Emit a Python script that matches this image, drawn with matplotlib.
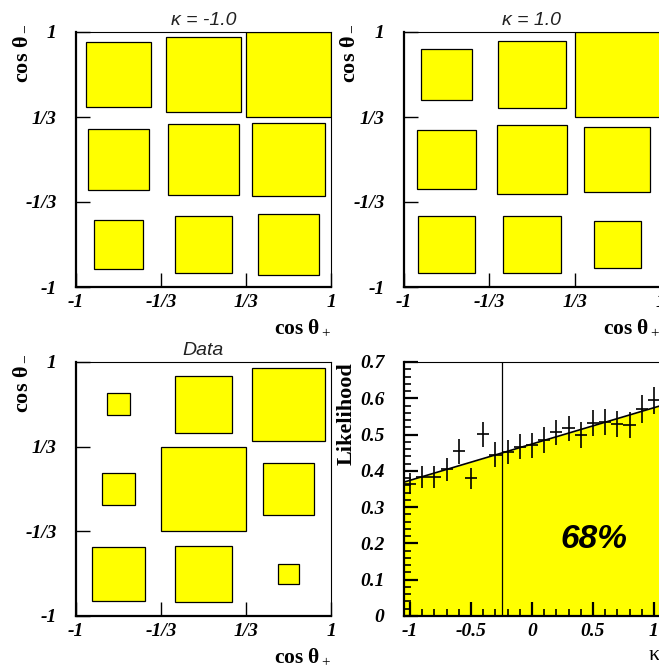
import numpy as np
import matplotlib
matplotlib.use("Agg")
import matplotlib.pyplot as plt
from matplotlib.patches import Rectangle
from matplotlib.ticker import MultipleLocator

plt.rcParams['mathtext.fontset'] = 'custom'
plt.rcParams['mathtext.rm'] = 'Liberation Serif'
plt.rcParams['mathtext.bf'] = 'Liberation Serif:bold'
plt.rcParams['mathtext.it'] = 'Liberation Serif:italic'

# box sizes (relative to largest bin), rows listed from top (cos theta- high) to bottom
kappa_m1 = [[0.765, 0.875, 1.0],
            [0.706, 0.830, 0.867],
            [0.565, 0.667, 0.710]]
kappa_p1 = [[0.596, 0.796, 1.0],
            [0.698, 0.810, 0.776],
            [0.675, 0.671, 0.553]]
data_box = [[0.26, 0.68, 0.86],
            [0.378, 1.0, 0.607],
            [0.635, 0.66, 0.24]]
bin_centers = [-2/3, 0, 2/3]
tick_pos = [-1, -1/3, 1/3, 1]
tick_lab = ['-1', '-1/3', '1/3', '1']

# likelihood scan
kappa = [-1.0, -0.9, -0.8, -0.7, -0.6, -0.5, -0.4, -0.3, -0.2, -0.1, 0.0,
         0.1, 0.2, 0.3, 0.4, 0.5, 0.6, 0.7, 0.8, 0.9, 1.0]
lik = [0.365, 0.383, 0.383, 0.404, 0.454, 0.379, 0.501, 0.445, 0.452, 0.467, 0.470,
       0.485, 0.506, 0.517, 0.499, 0.531, 0.534, 0.529, 0.527, 0.571, 0.594]
lik_err = [0.028, 0.030, 0.030, 0.032, 0.034, 0.028, 0.034, 0.034, 0.034, 0.034, 0.034,
           0.035, 0.035, 0.035, 0.035, 0.036, 0.036, 0.036, 0.036, 0.038, 0.038]
fit_x = [-1.05, 1.05]
fit_y = [0.369, 0.579]
kappa_cut = -0.25

W, H = 659, 669
fig = plt.figure(figsize=(W / 100, H / 100), dpi=100)


def px_axes(left, top, w, h):
    return fig.add_axes([left / W, 1 - (top + h) / H, w / W, h / H])


tickfont = dict(family='Liberation Serif', weight='bold', style='italic', size=14)
labfont = dict(family='Liberation Serif', weight='bold', size=16)


def frame(ax):
    for s in ['left', 'bottom']:
        ax.spines[s].set_linewidth(1.6)
    for s in ['top', 'right']:
        ax.spines[s].set_linewidth(0.8)


def box_panel(ax, grid, title):
    ax.set_xlim(-1, 1)
    ax.set_ylim(-1, 1)
    for r, row in enumerate(grid):
        yc = bin_centers[2 - r]
        for c, v in enumerate(row):
            xc = bin_centers[c]
            s = v * 2 / 3
            ax.add_patch(Rectangle((xc - s / 2, yc - s / 2), s, s,
                                   facecolor='#ffff00', edgecolor='black', lw=0.9))
    ax.set_xticks(tick_pos)
    ax.set_yticks(tick_pos)
    ax.set_xticklabels(tick_lab, fontdict=tickfont)
    ax.set_yticklabels(tick_lab, fontdict=tickfont)
    ax.tick_params(direction='in', length=10, width=1)
    ax.tick_params(axis='x', pad=5)
    ax.tick_params(axis='y', pad=14)
    frame(ax)
    ax.set_title(title, family='Liberation Sans', style='italic', size=14, color='#222222', pad=5)
    ax.text(1.0, -0.12, r'$\mathbf{cos}\ \mathbf{θ}_{\rm +}$', transform=ax.transAxes,
            ha='right', va='top', size=15.5)
    ax.text(-0.225, 1.03, r'$\mathbf{cos}\ \mathbf{θ}_{\rm -}$', transform=ax.transAxes,
            ha='center', va='top', rotation=90, size=16)


ax1 = px_axes(76, 32, 255, 255)
box_panel(ax1, kappa_m1, 'κ = -1.0')
ax2 = px_axes(404, 32, 256, 255)
box_panel(ax2, kappa_p1, 'κ = 1.0')
ax3 = px_axes(76, 362, 255, 254)
box_panel(ax3, data_box, 'Data')

ax4 = px_axes(404, 362, 256, 254)
ax4.set_xlim(-1.05, 1.05)
ax4.set_ylim(0, 0.7)
ax4.fill_between(fit_x, fit_y, 0, color='#ffff00', lw=0)
ax4.plot(fit_x, fit_y, color='black', lw=1.2)
ax4.plot([kappa_cut, kappa_cut], [0, 0.7], color='black', lw=0.9)
ax4.errorbar(kappa, lik, xerr=0.05, yerr=lik_err, fmt='none', ecolor='black', elinewidth=1.2)
ax4.text(0.51, 0.21, '68%', family='Liberation Sans', weight='bold', style='italic',
         size=24, ha='center', va='center')
ax4.xaxis.set_major_locator(MultipleLocator(0.5))
ax4.xaxis.set_minor_locator(MultipleLocator(0.1))
ax4.yaxis.set_major_locator(MultipleLocator(0.1))
ax4.yaxis.set_minor_locator(MultipleLocator(0.02))
ax4.set_xticks([-1, -0.5, 0, 0.5, 1])
ax4.set_xticklabels(['-1', '-0.5', '0', '0.5', '1'], fontdict=tickfont)
ax4.set_yticks([0, 0.1, 0.2, 0.3, 0.4, 0.5, 0.6, 0.7])
ax4.set_yticklabels(['0', '0.1', '0.2', '0.3', '0.4', '0.5', '0.6', '0.7'], fontdict=tickfont)
ax4.tick_params(which='major', direction='in', length=10, width=1.6)
ax4.tick_params(which='minor', direction='in', length=5, width=1.2)
ax4.tick_params(axis='x', which='both', pad=5, top=False)
ax4.tick_params(axis='y', which='both', pad=14, right=False)
frame(ax4)
ax4.text(-0.225, 1.0, 'Likelihood', transform=ax4.transAxes, ha='center', va='top',
         rotation=90, **labfont)
ax4.text(1.0, -0.12, 'κ', transform=ax4.transAxes, ha='right', va='top',
         family='Liberation Serif', size=16)

fig.savefig('out.png', dpi=100)
